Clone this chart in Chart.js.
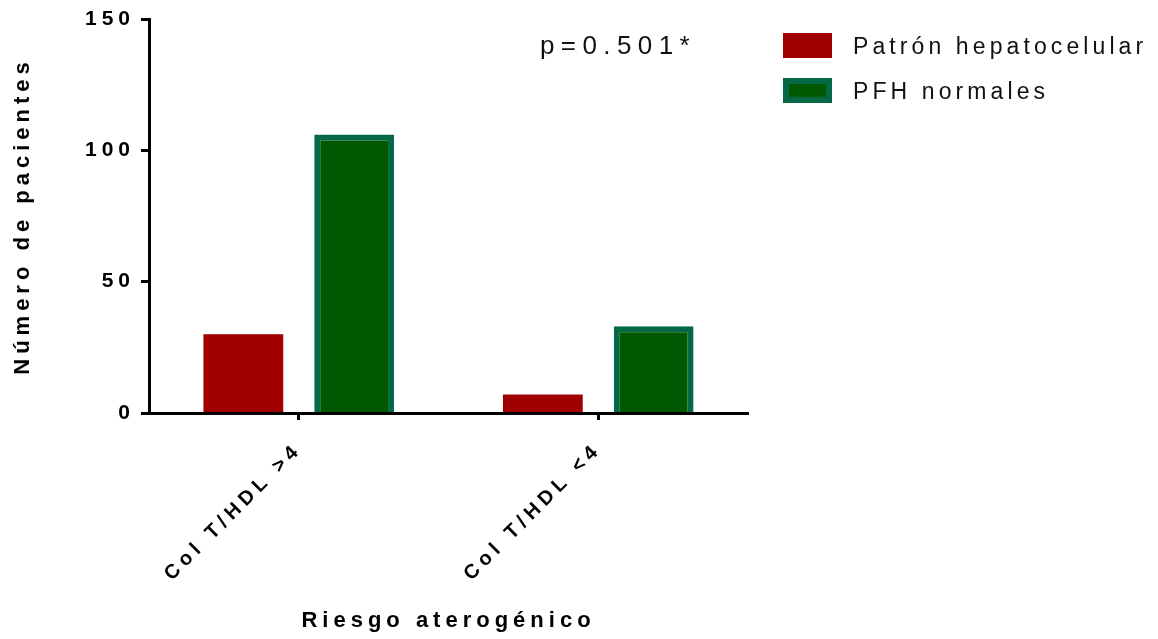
<!DOCTYPE html>
<html>
<head>
<meta charset="utf-8">
<script src="https://cdn.jsdelivr.net/npm/chart.js@4/dist/chart.umd.min.js"></script>
<style>
  html, body { margin: 0; padding: 0; background: #fff; }
</style>
</head>
<body>
<canvas id="myChart" width="1158" height="639"></canvas>
<script>
// data
const categories = ['Col T/HDL >4', 'Col T/HDL <4'];
const hepatocelular = [30, 7];
const pfhNormales = [106, 33];
const seriesNames = ['Patrón hepatocelular', 'PFH normales'];
const yTicks = [0, 50, 100, 150];
const pLabel = 'p=0.501*';

const FONT = '"Liberation Sans", Arial, Helvetica, sans-serif';

// canvas letter spacing (the original uses wide tracking everywhere)
const spacing = {
  id: 'spacing',
  beforeLayout(chart) { chart.ctx.letterSpacing = '5px'; },
  beforeDraw(chart) { chart.ctx.letterSpacing = '5px'; }
};

// legend on the right + p value
const sideLegend = {
  id: 'sideLegend',
  afterDraw(chart) {
    const ctx = chart.ctx;
    const area = chart.chartArea;
    const x0 = area.right + 35;
    ctx.save();
    ctx.font = '23px ' + FONT;
    ctx.letterSpacing = '4.1px';
    ctx.textBaseline = 'middle';
    ctx.textAlign = 'left';
    chart.data.datasets.forEach((ds, i) => {
      const y = 33 + i * 45;
      ctx.fillStyle = ds.borderWidth ? ds.borderColor : ds.backgroundColor;
      ctx.fillRect(x0, y, 49, 25);
      ctx.fillStyle = ds.backgroundColor;
      if (ds.borderWidth) ctx.fillRect(x0 + 6, y + 6, 37, 13);
      ctx.fillStyle = '#111';
      ctx.fillText(ds.label, x0 + 70, y + 15);
    });
    ctx.font = '26px ' + FONT;
    ctx.letterSpacing = '6.4px';
    ctx.textBaseline = 'alphabetic';
    ctx.fillText(pLabel, area.left + 391, area.top + 35);
    ctx.restore();
  }
};

new Chart(document.getElementById('myChart'), {
  type: 'bar',
  data: {
    labels: categories,
    datasets: [{
      label: seriesNames[0],
      data: hepatocelular,
      backgroundColor: '#a00000',
      borderColor: '#a00000',
      borderWidth: 0
    }, {
      label: seriesNames[1],
      data: pfhNormales,
      backgroundColor: '#005800',
      borderColor: '#066945',
      borderWidth: 6
    }]
  },
  options: {
    responsive: false,
    animation: false,
    categoryPercentage: 0.74,
    barPercentage: 0.72,
    layout: { padding: { top: 19, right: 410, left: 0, bottom: 0 } },
    plugins: {
      legend: { display: false },
      tooltip: { enabled: false }
    },
    scales: {
      x: {
        grid: { display: true, drawOnChartArea: false, offset: false, tickLength: 7, tickWidth: 3, tickColor: '#000' },
        border: { display: true, color: '#000', width: 3, z: 1 },
        ticks: {
          color: '#000',
          font: { family: FONT, size: 20, weight: 'bold' },
          minRotation: 45, maxRotation: 45,
          padding: 18
        },
        title: {
          display: true,
          text: 'Riesgo aterogénico',
          color: '#000',
          font: { family: FONT, size: 22, weight: 'bold' },
          padding: { top: 0, bottom: 5 }
        },
        afterFit(s) { s.height = 226; }
      },
      y: {
        min: 0, max: 150,
        grid: { display: true, drawOnChartArea: false, tickLength: 8, tickWidth: 3, tickColor: '#000' },
        border: { display: true, color: '#000', width: 3 },
        ticks: {
          color: '#000',
          font: { family: FONT, size: 21, weight: 'bold' },
          padding: 6
        },
        afterBuildTicks(s) { s.ticks = yTicks.map(v => ({ value: v })); },
        title: {
          display: true,
          text: 'Número de pacientes',
          color: '#000',
          font: { family: FONT, size: 22, weight: 'bold' },
          padding: { top: 10, bottom: 0 }
        },
        afterFit(s) { s.width = 149; }
      }
    }
  },
  plugins: [spacing, sideLegend]
});
</script>
</body>
</html>
